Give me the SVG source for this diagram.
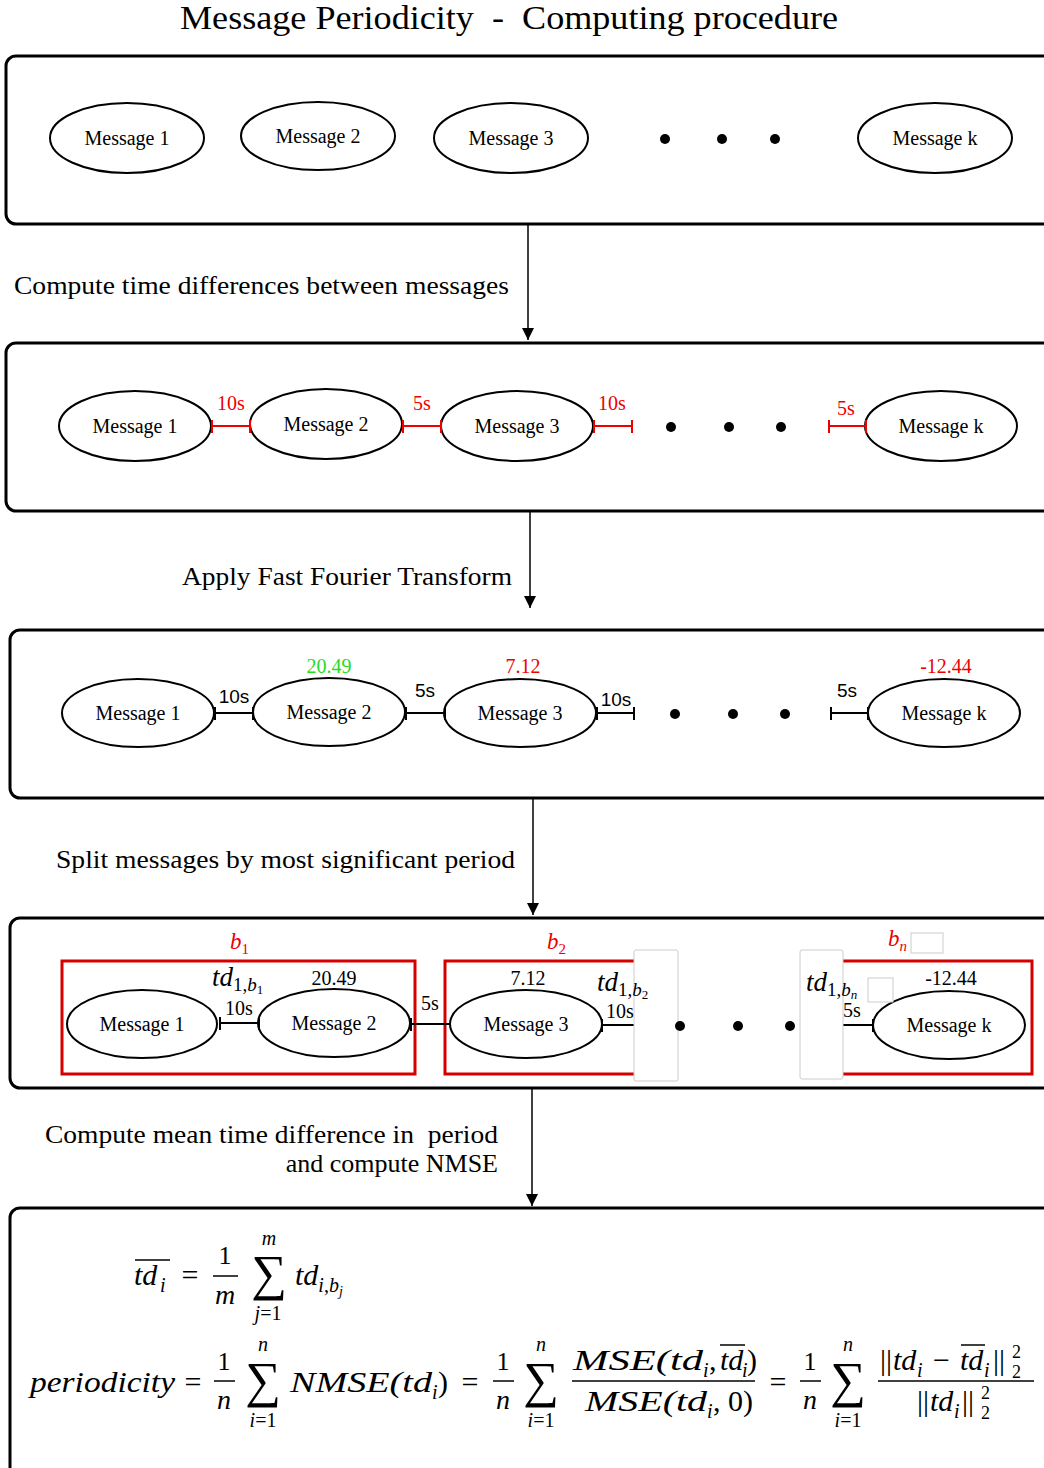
<svg xmlns="http://www.w3.org/2000/svg" width="1044" height="1468" viewBox="0 0 1044 1468" xml:space="preserve">
<defs>
<style>
text{white-space:pre}
.frame{fill:none;stroke:#000;stroke-width:3}
.ell{fill:#fff;stroke:#000;stroke-width:2}
.mt{font-family:"Liberation Serif",serif;font-size:20px;text-anchor:middle;fill:#000}
.lbl{font-family:"Liberation Serif",serif;font-size:26px;fill:#000}
.dot{fill:#000}
.rbar{stroke:#e00;stroke-width:2;fill:none}
.kbar{stroke:#000;stroke-width:2;fill:none}
.red{fill:#e00}
.sans{font-family:"Liberation Sans",sans-serif;font-size:19px;text-anchor:middle;fill:#000}
.num{font-family:"Liberation Serif",serif;font-size:20px;text-anchor:middle}
.m{font-family:"Liberation Serif",serif;font-style:italic;fill:#000}
.mr{font-family:"Liberation Serif",serif;font-style:italic;fill:#e00}
.r{font-family:"Liberation Serif",serif;fill:#000}
.bin{fill:none;stroke:#d40000;stroke-width:3}
.wbox{fill:#fff;stroke:#ccc;stroke-width:1}
.conn{stroke:#000;stroke-width:1.5;fill:none}
.ol{stroke:#000;stroke-width:1.5}
</style>
<marker id="ah" markerWidth="12" markerHeight="12" refX="10" refY="5" orient="auto" markerUnits="userSpaceOnUse" viewBox="0 0 10 10">
<path d="M0,0 L10,5 L0,10 z" fill="#000"/>
</marker>
</defs>
<rect width="1044" height="1468" fill="#fff"/>
<text id="title" x="509" y="29" class="r" font-size="34" text-anchor="middle" textLength="658" lengthAdjust="spacingAndGlyphs">Message Periodicity  -  Computing procedure</text>

<g id="connectors">
<line class="conn" x1="528" y1="224" x2="528" y2="340" marker-end="url(#ah)"/>
<line class="conn" x1="530" y1="512" x2="530" y2="608" marker-end="url(#ah)"/>
<line class="conn" x1="533" y1="798" x2="533" y2="915" marker-end="url(#ah)"/>
<line class="conn" x1="532" y1="1088" x2="532" y2="1206" marker-end="url(#ah)"/>
<text class="lbl" x="14" y="294" textLength="495" lengthAdjust="spacingAndGlyphs">Compute time differences between messages</text>
<text class="lbl" x="182" y="585" textLength="330" lengthAdjust="spacingAndGlyphs">Apply Fast Fourier Transform</text>
<text class="lbl" x="56" y="868" textLength="459" lengthAdjust="spacingAndGlyphs">Split messages by most significant period</text>
<text class="lbl" x="45" y="1143" textLength="453" lengthAdjust="spacingAndGlyphs">Compute mean time difference in  period</text>
<text class="lbl" x="498" y="1172" text-anchor="end">and compute NMSE</text>
</g>

<g id="stage1">
<rect class="frame" x="6" y="56" width="1070" height="168" rx="10"/>
<g id="s1-m1"><ellipse class="ell" cx="127" cy="138" rx="77" ry="35"/><text class="mt" x="127" y="145">Message 1</text></g>
<g id="s1-m2"><ellipse class="ell" cx="318" cy="136" rx="77" ry="34"/><text class="mt" x="318" y="143">Message 2</text></g>
<g id="s1-m3"><ellipse class="ell" cx="511" cy="138" rx="77" ry="35"/><text class="mt" x="511" y="145">Message 3</text></g>
<g id="s1-mk"><ellipse class="ell" cx="935" cy="138" rx="77" ry="35"/><text class="mt" x="935" y="145">Message k</text></g>
<circle class="dot" cx="665" cy="139" r="5"/><circle class="dot" cx="722" cy="139" r="5"/><circle class="dot" cx="775" cy="139" r="5"/>
</g>

<g id="stage2">
<rect class="frame" x="6" y="343" width="1070" height="168" rx="10"/>
<g id="s2-m1"><ellipse class="ell" cx="135" cy="426" rx="76" ry="35"/><text class="mt" x="135" y="433">Message 1</text></g>
<g id="s2-m2"><ellipse class="ell" cx="326" cy="424" rx="76" ry="35"/><text class="mt" x="326" y="431">Message 2</text></g>
<g id="s2-m3"><ellipse class="ell" cx="517" cy="426" rx="76" ry="35"/><text class="mt" x="517" y="433">Message 3</text></g>
<g id="s2-mk"><ellipse class="ell" cx="941" cy="426" rx="76" ry="35"/><text class="mt" x="941" y="433">Message k</text></g>
<path class="rbar" d="M212,426 H250 M212,420 V433 M250,420 V433"/>
<path class="rbar" d="M403,426 H441 M403,420 V433 M441,420 V433"/>
<path class="rbar" d="M594,426 H632 M594,420 V433 M632,420 V433"/>
<path class="rbar" d="M829,426 H866 M829,420 V433 M866,420 V433"/>
<text class="num red" x="231" y="410">10s</text>
<text class="num red" x="422" y="410">5s</text>
<text class="num red" x="612" y="410">10s</text>
<text class="num red" x="846" y="415">5s</text>
<circle class="dot" cx="671" cy="427" r="5"/><circle class="dot" cx="729" cy="427" r="5"/><circle class="dot" cx="781" cy="427" r="5"/>
</g>

<g id="stage3">
<rect class="frame" x="10" y="630" width="1066" height="168" rx="10"/>
<g id="s3-m1"><ellipse class="ell" cx="138" cy="713" rx="76" ry="34"/><text class="mt" x="138" y="720">Message 1</text></g>
<g id="s3-m2"><ellipse class="ell" cx="329" cy="712" rx="76" ry="34"/><text class="mt" x="329" y="719">Message 2</text></g>
<g id="s3-m3"><ellipse class="ell" cx="520" cy="713" rx="76" ry="34"/><text class="mt" x="520" y="720">Message 3</text></g>
<g id="s3-mk"><ellipse class="ell" cx="944" cy="713" rx="76" ry="34"/><text class="mt" x="944" y="720">Message k</text></g>
<path class="kbar" d="M215,713 H253 M215,707 V720 M253,707 V720"/>
<path class="kbar" d="M406,713 H445 M406,707 V720 M445,707 V720"/>
<path class="kbar" d="M597,713 H634 M597,707 V720 M634,707 V720"/>
<path class="kbar" d="M831,713 H868 M831,707 V720 M868,707 V720"/>
<text class="sans" x="234" y="703">10s</text>
<text class="sans" x="425" y="697">5s</text>
<text class="sans" x="616" y="706">10s</text>
<text class="sans" x="847" y="697">5s</text>
<text class="num" x="329" y="673" fill="#22dd22">20.49</text>
<text class="num" x="523" y="673" fill="#e00">7.12</text>
<text class="num" x="946" y="673" fill="#e00">-12.44</text>
<circle class="dot" cx="675" cy="714" r="5"/><circle class="dot" cx="733" cy="714" r="5"/><circle class="dot" cx="785" cy="714" r="5"/>
</g>

<g id="stage4">
<rect class="frame" x="10" y="918" width="1066" height="170" rx="10"/>
<rect id="bin1" class="bin" x="62" y="961" width="353" height="113"/>
<rect id="bin2" class="bin" x="445" y="961" width="215" height="113"/>
<rect id="binn" class="bin" x="820" y="961" width="212" height="113"/>
<text class="mr" x="230" y="949" font-size="23">b<tspan font-size="15" dy="5" font-style="normal">1</tspan></text>
<text class="mr" x="547" y="949" font-size="23">b<tspan font-size="15" dy="5" font-style="normal">2</tspan></text>
<text class="mr" x="888" y="946" font-size="23">b<tspan font-size="15" dy="5">n</tspan></text>
<g id="s4-m1"><ellipse class="ell" cx="142" cy="1024" rx="75" ry="34"/><text class="mt" x="142" y="1031">Message 1</text></g>
<g id="s4-m2"><ellipse class="ell" cx="334" cy="1023" rx="76" ry="34"/><text class="mt" x="334" y="1030">Message 2</text></g>
<g id="s4-m3"><ellipse class="ell" cx="526" cy="1024" rx="76" ry="34"/><text class="mt" x="526" y="1031">Message 3</text></g>
<g id="s4-mk"><ellipse class="ell" cx="949" cy="1025" rx="76" ry="34"/><text class="mt" x="949" y="1032">Message k</text></g>
<path class="kbar" d="M220,1023 H259 M220,1017 V1030 M259,1017 V1030"/>
<path class="kbar" d="M411,1024 H450 M411,1018 V1031"/>
<path class="kbar" d="M602,1025 H638 M602,1019 V1032 M638,1019 V1032"/>
<path class="kbar" d="M836,1025 H873 M836,1019 V1032 M873,1019 V1032"/>
<text class="num" x="239" y="1015" fill="#000">10s</text>
<text class="num" x="430" y="1010" fill="#000">5s</text>
<text class="num" x="334" y="985" fill="#000">20.49</text>
<text class="num" x="528" y="985" fill="#000">7.12</text>
<text class="m" x="212" y="986" font-size="27">td<tspan font-size="19" dy="5" font-style="normal">1,</tspan><tspan font-size="19">b</tspan><tspan font-size="13" dy="3" font-style="normal">1</tspan></text>
<rect class="wbox" x="634" y="950" width="44" height="131" rx="2"/>
<rect class="wbox" x="800" y="950" width="43" height="129" rx="2"/>
<rect class="wbox" x="911" y="933" width="32" height="20"/>
<rect class="wbox" x="868" y="978" width="25" height="24"/>
<text class="num" x="620" y="1018" fill="#000">10s</text>
<text class="num" x="852" y="1017" fill="#000">5s</text>
<text class="num" x="951" y="985" fill="#000">-12.44</text>
<text class="m" x="597" y="991" font-size="27">td<tspan font-size="19" dy="5" font-style="normal">1,</tspan><tspan font-size="19">b</tspan><tspan font-size="13" dy="3" font-style="normal">2</tspan></text>
<text class="m" x="806" y="991" font-size="27">td<tspan font-size="19" dy="5" font-style="normal">1,</tspan><tspan font-size="19">b</tspan><tspan font-size="13" dy="3">n</tspan></text>
<circle class="dot" cx="680" cy="1026" r="5"/><circle class="dot" cx="738" cy="1026" r="5"/><circle class="dot" cx="790" cy="1026" r="5"/>
</g>

<g id="stage5">
<rect class="frame" x="10" y="1208" width="1066" height="290" rx="10"/>
<g id="formula1">
<text class="m" x="134" y="1285" font-size="30">td</text>
<text class="m" x="160" y="1292" font-size="20">i</text>
<line class="ol" x1="135" y1="1260" x2="170" y2="1260"/>
<text class="r" x="190" y="1285" font-size="30" text-anchor="middle">=</text>
<text class="r" x="225" y="1264" font-size="26" text-anchor="middle">1</text>
<line class="ol" x1="213" y1="1276" x2="238" y2="1276"/>
<text class="m" x="225" y="1304" font-size="28" text-anchor="middle">m</text>
<text class="r" x="269" y="1290" font-size="50" text-anchor="middle">∑</text>
<text class="m" x="269" y="1245" font-size="20" text-anchor="middle">m</text>
<text class="m" x="268" y="1320" font-size="20" text-anchor="middle">j<tspan font-style="normal">=1</tspan></text>
<text class="m" x="295" y="1285" font-size="30">td<tspan font-size="20" dy="7">i</tspan><tspan font-size="20" font-style="normal">,</tspan><tspan font-size="20">b</tspan><tspan font-size="14" dy="4">j</tspan></text>
</g>
<g id="formula2">
<text class="m" x="30" y="1392" font-size="30" textLength="145" lengthAdjust="spacingAndGlyphs">periodicity</text>
<text class="r" x="193" y="1392" font-size="30" text-anchor="middle">=</text>
<text class="r" x="224" y="1370" font-size="26" text-anchor="middle">1</text>
<line class="ol" x1="214" y1="1381" x2="235" y2="1381"/>
<text class="m" x="224" y="1409" font-size="28" text-anchor="middle">n</text>
<text class="r" x="263" y="1397" font-size="50" text-anchor="middle">∑</text>
<text class="m" x="263" y="1351" font-size="20" text-anchor="middle">n</text>
<text class="m" x="263" y="1427" font-size="20" text-anchor="middle">i<tspan font-style="normal">=1</tspan></text>
<text class="m" x="290" y="1392" font-size="30" textLength="142" lengthAdjust="spacingAndGlyphs">NMSE(td</text>
<text class="m" x="432" y="1399" font-size="20">i</text>
<text class="r" x="438" y="1392" font-size="30">)</text>
<text class="r" x="470" y="1392" font-size="30" text-anchor="middle">=</text>
<text class="r" x="503" y="1370" font-size="26" text-anchor="middle">1</text>
<line class="ol" x1="493" y1="1381" x2="514" y2="1381"/>
<text class="m" x="503" y="1409" font-size="28" text-anchor="middle">n</text>
<text class="r" x="541" y="1397" font-size="50" text-anchor="middle">∑</text>
<text class="m" x="541" y="1351" font-size="20" text-anchor="middle">n</text>
<text class="m" x="541" y="1427" font-size="20" text-anchor="middle">i<tspan font-style="normal">=1</tspan></text>
<text class="m" x="573" y="1370" font-size="30" textLength="130" lengthAdjust="spacingAndGlyphs">MSE(td</text>
<text class="m" x="703" y="1377" font-size="20">i</text>
<text class="r" x="709" y="1370" font-size="30">,</text>
<text class="m" x="720" y="1370" font-size="30">td</text>
<line class="ol" x1="720" y1="1345" x2="745" y2="1345"/>
<text class="m" x="742" y="1377" font-size="20">i</text>
<text class="r" x="747" y="1370" font-size="30">)</text>
<line class="ol" x1="572" y1="1381" x2="755" y2="1381"/>
<text class="m" x="585" y="1411" font-size="30" textLength="122" lengthAdjust="spacingAndGlyphs">MSE(td</text>
<text class="m" x="707" y="1418" font-size="20">i</text>
<text class="r" x="713" y="1411" font-size="30">, 0)</text>
<text class="r" x="778" y="1392" font-size="30" text-anchor="middle">=</text>
<text class="r" x="810" y="1370" font-size="26" text-anchor="middle">1</text>
<line class="ol" x1="800" y1="1381" x2="821" y2="1381"/>
<text class="m" x="810" y="1409" font-size="28" text-anchor="middle">n</text>
<text class="r" x="848" y="1397" font-size="50" text-anchor="middle">∑</text>
<text class="m" x="848" y="1351" font-size="20" text-anchor="middle">n</text>
<text class="m" x="848" y="1427" font-size="20" text-anchor="middle">i<tspan font-style="normal">=1</tspan></text>
<text class="r" x="880" y="1370" font-size="30">||</text>
<text class="m" x="893" y="1370" font-size="30">td</text>
<text class="m" x="917" y="1377" font-size="20">i</text>
<text class="r" x="933" y="1370" font-size="30">−</text>
<text class="m" x="960" y="1370" font-size="30">td</text>
<line class="ol" x1="961" y1="1345" x2="985" y2="1345"/>
<text class="m" x="984" y="1377" font-size="20">i</text>
<text class="r" x="993" y="1370" font-size="30">||</text>
<text class="r" x="1012" y="1358" font-size="18">2</text>
<text class="r" x="1012" y="1378" font-size="18">2</text>
<line class="ol" x1="878" y1="1381" x2="1034" y2="1381"/>
<text class="r" x="917" y="1411" font-size="30">||</text>
<text class="m" x="930" y="1411" font-size="30">td</text>
<text class="m" x="954" y="1418" font-size="20">i</text>
<text class="r" x="962" y="1411" font-size="30">||</text>
<text class="r" x="981" y="1399" font-size="18">2</text>
<text class="r" x="981" y="1419" font-size="18">2</text>
</g>
</g>
</svg>
